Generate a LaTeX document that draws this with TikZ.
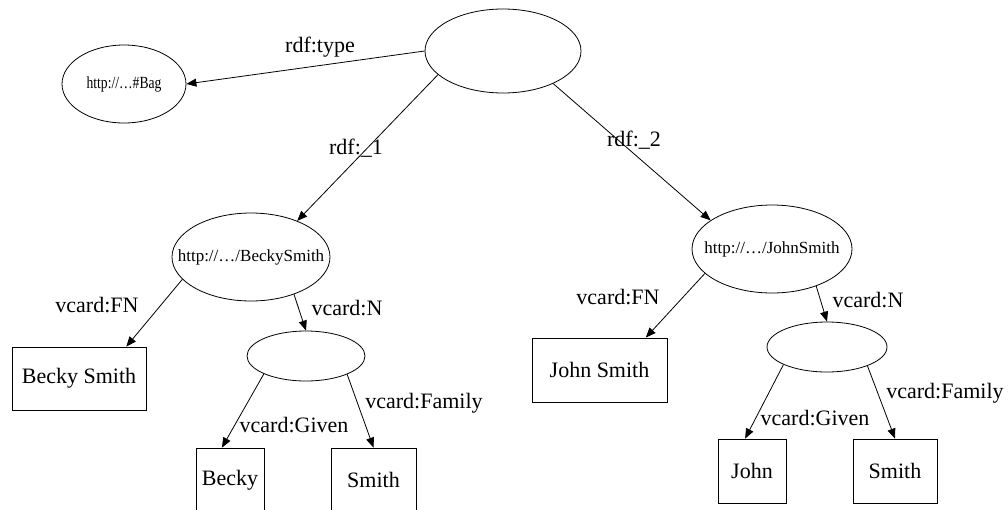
\documentclass[tikz,border=0pt]{standalone}
\usepackage{fontspec}
\setmainfont{Liberation Serif}
\usetikzlibrary{arrows.meta,shapes.geometric}
\begin{document}
\begin{tikzpicture}[x=1pt,y=-1pt, line width=0.8pt,
  ell/.style={draw, ellipse, inner sep=0pt},
  etext/.style={font=\fontsize{17}{19}\selectfont, inner sep=0pt},
  box/.style={draw, rectangle, inner sep=0pt, font=\fontsize{22}{24}\selectfont},
  lbl/.style={font=\fontsize{22}{24}\selectfont, inner sep=0pt},
  arr/.style={-{Triangle[length=10pt,width=8pt]}}]
\useasboundingbox (0,0) rectangle (1008,509);
% nodes
\node[ell, minimum width=156pt, minimum height=84pt] (top) at (503,51) {};
\node[ell, minimum width=124pt, minimum height=78pt,
  label={[etext]center:\scalebox{0.8}[1]{http://\dots\#Bag}}] (bag) at (124,84) {};
\node[ell, minimum width=158pt, minimum height=88pt,
  label={[etext]center:http://\dots/BeckySmith}] (becky) at (251,257) {};
\node[ell, minimum width=160pt, minimum height=88pt,
  label={[etext]center:http://\dots/JohnSmith}] (john) at (772,249) {};
\node[box, minimum width=134pt, minimum height=63pt] (bsbox) at (79,378.5) {Becky Smith};
\node[ell, minimum width=118pt, minimum height=50pt] (nL) at (306,356) {};
\node[box, minimum width=68pt, minimum height=64pt] (beckybox) at (230,480) {Becky};
\node[box, minimum width=85pt, minimum height=64pt] (smithL) at (373.5,480) {Smith};
\node[box, minimum width=135pt, minimum height=64pt] (jsbox) at (599.5,370) {John Smith};
\node[ell, minimum width=120pt, minimum height=50pt] (nR) at (827,347) {};
\node[box, minimum width=68pt, minimum height=64pt] (johnbox) at (752,471) {John};
\node[box, minimum width=84pt, minimum height=64pt] (smithR) at (895,471) {Smith};
% edges
\draw[arr] (top.west) -- (bag.east);
\draw[arr] (top.200) -- (becky.38);
\draw[arr] (top.-33) -- (john.155);
\draw[arr] (becky.198) -- (bsbox.34);
\draw[arr] (becky.-41) -- (nL.north);
\draw[arr] (nL.203) -- (beckybox.104);
\draw[arr] (nL.-24) -- (smithL.north);
\draw[arr] (john.200) -- (jsbox.35);
\draw[arr] (john.-40) -- (nR.north);
\draw[arr] (nR.202) -- (johnbox.102);
\draw[arr] (nR.-25) -- (smithR.north);
% labels
\node[lbl] (l1) at (320,47) {rdf:type};
\node[lbl] (l2) at (356,148) {rdf:\_1};
\node[lbl] (l3) at (634,140) {rdf:\_2};
\node[lbl] (l4) at (97,305) {vcard:FN};
\node[lbl] (l5) at (347,308) {vcard:N};
\node[lbl] (l6) at (294,425) {vcard:Given};
\node[lbl] (l7) at (424,403) {vcard:Family};
\node[lbl] (l8) at (618,297) {vcard:FN};
\node[lbl] (l9) at (868,300) {vcard:N};
\node[lbl] (l10) at (815,418) {vcard:Given};
\node[lbl] (l11) at (945,393) {vcard:Family};
\end{tikzpicture}
\end{document}
